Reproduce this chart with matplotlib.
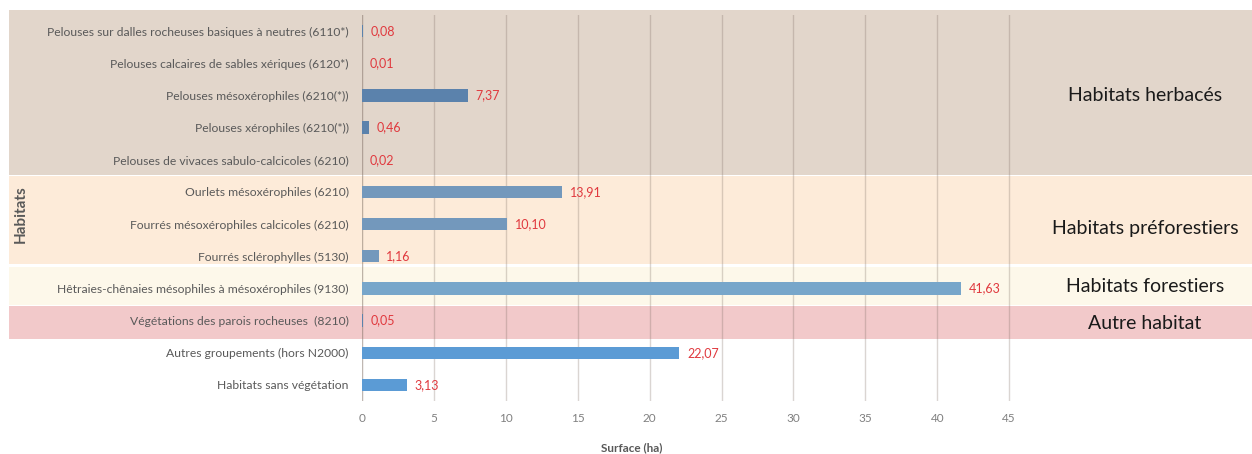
import matplotlib
matplotlib.use("Agg")
import matplotlib.pyplot as plt
from matplotlib.patches import Rectangle
from matplotlib.transforms import blended_transform_factory

plt.rcParams['font.family'] = ['Lato', 'DejaVu Sans']

categories = [
    "Pelouses sur dalles rocheuses basiques à neutres (6110*)",
    "Pelouses calcaires de sables xériques (6120*)",
    "Pelouses mésoxérophiles (6210(*))",
    "Pelouses xérophiles (6210(*))",
    "Pelouses de vivaces sabulo-calcicoles (6210)",
    "Ourlets mésoxérophiles (6210)",
    "Fourrés mésoxérophiles calcicoles (6210)",
    "Fourrés sclérophylles (5130)",
    "Hêtraies-chênaies mésophiles à mésoxérophiles (9130)",
    "Végétations des parois rocheuses  (8210)",
    "Autres groupements (hors N2000)",
    "Habitats sans végétation",
]
surfaces = [0.08, 0.01, 7.37, 0.46, 0.02, 13.91, 10.10, 1.16, 41.63, 0.05, 22.07, 3.13]
bar_colors = ["#5b82ac"] * 5 + ["#7398bc"] * 3 + ["#77a6ca"] + ["#5b82ac"] + ["#5b9bd5"] * 2
xticks = [0, 5, 10, 15, 20, 25, 30, 35, 40, 45]

# habitat groups: label, first row, last row, background colour
groups = [
    ("Habitats herbacés", 0, 4, "#e2d6cb"),
    ("Habitats préforestiers", 5, 7, "#fdebd9"),
    ("Habitats forestiers", 8, 8, "#fdf8ea"),
    ("Autre habitat", 9, 9, "#f2c9ca"),
]
# vertical extent of each band (in row units) and label height
band_spans = [(-0.65, 4.47), (4.50, 7.24), (7.33, 8.53), (8.56, 9.58)]
label_rows = [2.0, 6.13, 7.93, 9.08]

W, H = 1252, 454
fig = plt.figure(figsize=(W / 100, H / 100), dpi=100)
left_px, right_px = 362, 1038
top_px, bottom_px = 15, 401
ax = fig.add_axes([left_px / W, 1 - bottom_px / H,
                   (right_px - left_px) / W, (bottom_px - top_px) / H])
ax.patch.set_visible(False)

ypos = list(range(len(categories)))
ax.barh(ypos, surfaces, height=0.38, color=bar_colors, zorder=3)

ax.set_xlim(0, 47)
ax.set_ylim(len(categories) - 0.5, -0.5)

ax.set_xticks(xticks)
ax.set_xticklabels([str(t) for t in xticks], fontsize=8.5, color="#808080")
ax.set_yticks(ypos)
ax.set_yticklabels(categories, fontsize=8.7, color="#595959")
ax.tick_params(axis="both", length=0)
ax.tick_params(axis="y", pad=9.5)
ax.tick_params(axis="x", pad=9)
for s in ax.spines.values():
    s.set_visible(False)
ax.set_axisbelow(True)
ax.xaxis.grid(True, color="#7a6a60", alpha=0.28, linewidth=1.0, zorder=1)
ax.axvline(0, color="#7a6a60", alpha=0.28, linewidth=1.0, zorder=1)

# value labels
for y, v in zip(ypos, surfaces):
    ax.annotate(f"{v:.2f}".replace(".", ","), xy=(v, y), xytext=(5.5, 0),
                textcoords="offset points", va="center", ha="left",
                fontsize=9, color="#e0393e", zorder=4)

# background bands spanning the full width
trans = blended_transform_factory(fig.transFigure, ax.transData)
for (name, r0, r1, col), (y0, y1), ly in zip(groups, band_spans, label_rows):
    rect = Rectangle((9 / W, y0), 1 - 9 / W, y1 - y0, transform=trans,
                     facecolor=col, edgecolor="none", clip_on=False, zorder=0)
    ax.add_patch(rect)
    ax.text(1145 / W, ly, name, transform=trans, ha="center", va="center",
            fontsize=14, color="#1a1a1a")

fig.text(632 / W, 1 - 448 / H, "Surface (ha)", ha="center", va="center",
         fontsize=8.5, fontweight="bold", color="#595959")
fig.text(21 / W, 1 - 214 / H, "Habitats", ha="center", va="center",
         rotation=90, fontsize=11, fontweight="bold", color="#595959")

fig.savefig("out.png", dpi=100)
